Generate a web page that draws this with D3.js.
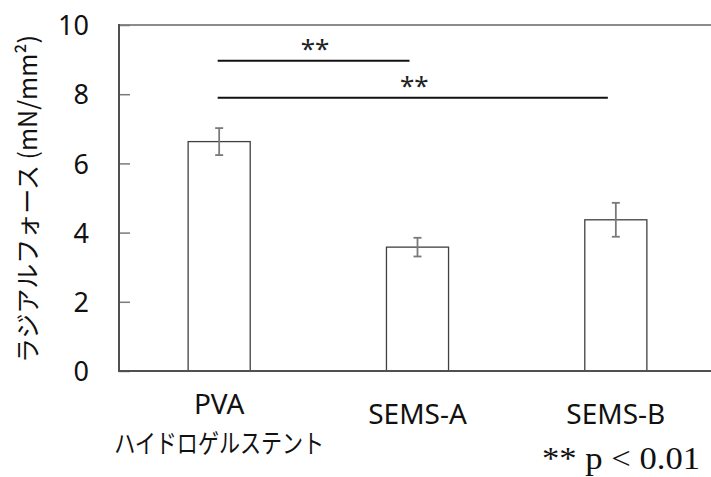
<!DOCTYPE html>
<html><head><meta charset="utf-8">
<script src="https://cdn.jsdelivr.net/npm/d3@7"></script>
<style>body{margin:0;background:#fff}</style>
</head><body>
<svg id="c" width="711" height="477"></svg>
<script>
const categories = ["PVA", "SEMS-A", "SEMS-B"];
const subLabels = ["ハイドロゲルステント", "", ""];
const means = [6.63, 3.58, 4.37];
const errors = [0.39, 0.27, 0.49];
const yTicks = [0, 2, 4, 6, 8, 10];
const brackets = [
  {from: "PVA", to: "SEMS-A", level: 8.97, label: "**"},
  {from: "PVA", to: "SEMS-B", level: 7.9, label: "**"}
];
const yTitle = "ラジアルフォース (mN/mm²)";
const note = "** p < 0.01";

const svg = d3.select("#c");
const L = 119, R = 715, T = 25, B = 371;
const x = d3.scaleBand().domain(categories).range([L + 1, R]).paddingInner(0.687).paddingOuter(0.3435);
const y = d3.scaleLinear().domain([0, 10]).range([B, T]);
const cx = c => x(c) + x.bandwidth() / 2;

// frame top
svg.append("line").attr("x1", L).attr("x2", 711).attr("y1", T).attr("y2", T)
  .attr("stroke", "#8c8c8c").attr("stroke-width", 2);

// bars
svg.selectAll("rect.bar").data(categories).join("rect")
  .attr("x", d => x(d)).attr("y", (d, i) => y(means[i]))
  .attr("width", x.bandwidth()).attr("height", (d, i) => B - y(means[i]))
  .attr("fill", "#fff").attr("stroke", "#404040").attr("stroke-width", 1.3);

// error bars
const eb = svg.append("g").attr("stroke", "#7a7a7a").attr("stroke-width", 1.8);
categories.forEach((c, i) => {
  const xc = cx(c);
  eb.append("line").attr("x1", xc).attr("x2", xc).attr("y1", y(means[i] + errors[i])).attr("y2", y(means[i] - errors[i]));
  [means[i] + errors[i], means[i] - errors[i]].forEach(v => {
    eb.append("line").attr("x1", xc - 4).attr("x2", xc + 4).attr("y1", y(v)).attr("y2", y(v));
  });
});

// y axis
const ya = svg.append("g").attr("transform", `translate(${L},0)`)
  .call(d3.axisRight(y).tickValues(yTicks).tickSize(11).tickFormat(d3.format("d")));
ya.select(".domain").remove();
ya.selectAll(".tick line").attr("stroke", "#7a7a7a").attr("stroke-width", 1.5);
ya.selectAll(".tick text").attr("x", -30).attr("text-anchor", "end")
  .attr("font-family", "'Noto Sans', sans-serif").attr("font-size", 27).attr("fill", "#111").attr("dy", "0.36em");
svg.append("line").attr("x1", L).attr("x2", L).attr("y1", T - 1).attr("y2", B + 1)
  .attr("stroke", "#505050").attr("stroke-width", 2);
// x axis line
svg.append("line").attr("x1", L).attr("x2", 711).attr("y1", B).attr("y2", B)
  .attr("stroke", "#505050").attr("stroke-width", 2);

// x labels
categories.forEach((c, i) => {
  const two = subLabels[i] !== "";
  svg.append("text").attr("x", cx(c)).attr("y", two ? 414 : 424).attr("text-anchor", "middle")
    .attr("font-family", "'Noto Sans', sans-serif").attr("font-size", 28).attr("fill", "#111").text(c);
  if (two) {
    svg.append("text").attr("x", cx(c)).attr("y", 453).attr("text-anchor", "middle")
      .attr("font-family", "'Noto Sans CJK JP', sans-serif").attr("font-size", 26).attr("fill", "#111")
      .attr("textLength", 210).attr("lengthAdjust", "spacingAndGlyphs").text(subLabels[i]);
  }
});

// y title
svg.append("text").attr("transform", `translate(37,199) rotate(-90)`).attr("text-anchor", "middle")
  .attr("font-family", "'Noto Sans CJK JP', sans-serif").attr("font-size", 25).attr("fill", "#111")
  .attr("textLength", 328).attr("lengthAdjust", "spacingAndGlyphs").text(yTitle);

// brackets
brackets.forEach(b => {
  const x1 = cx(b.from) - 1.5, x2 = cx(b.to) - 8;
  svg.append("line").attr("x1", x1).attr("x2", x2).attr("y1", y(b.level)).attr("y2", y(b.level))
    .attr("stroke", "#111").attr("stroke-width", 2);
  svg.append("text").attr("x", (x1 + x2) / 2 + 1.5).attr("y", y(b.level) - 3).attr("text-anchor", "middle")
    .attr("font-family", "'Noto Sans', sans-serif").attr("font-size", 26).attr("fill", "#222").text(b.label);
});

// note
svg.append("text").attr("x", 542).attr("y", 469).attr("text-anchor", "start")
  .attr("font-family", "'Liberation Serif', serif").attr("font-size", 31).attr("fill", "#111")
  .attr("textLength", 158).attr("lengthAdjust", "spacingAndGlyphs")
  .style("white-space", "pre").text(note);
</script>
</body></html>
